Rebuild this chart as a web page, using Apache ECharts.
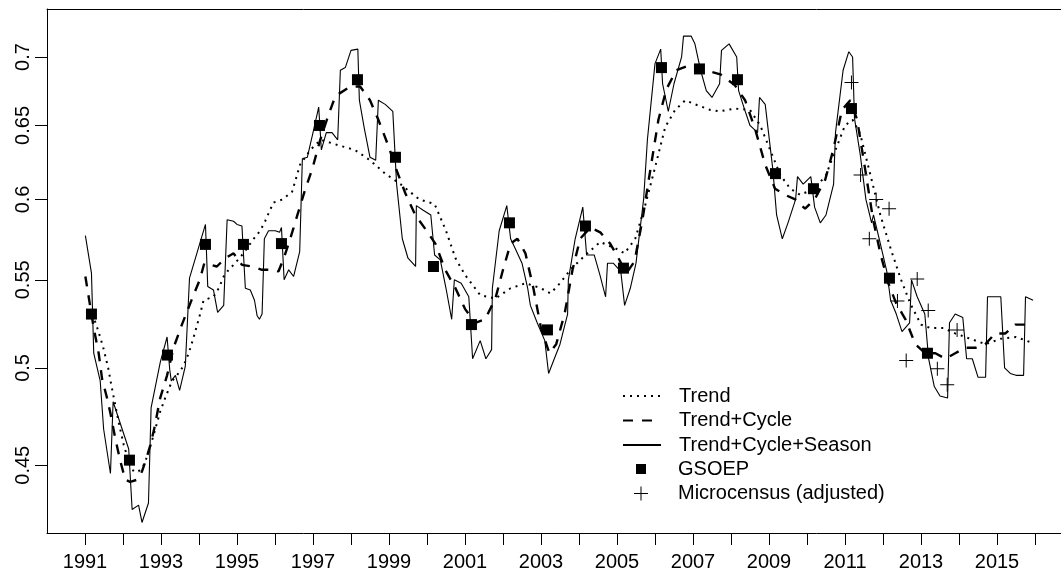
<!DOCTYPE html>
<html><head><meta charset="utf-8">
<script src="https://cdn.jsdelivr.net/npm/echarts@6/dist/echarts.min.js"></script>
<style>html,body{margin:0;padding:0;background:#fff;overflow:hidden}#c{width:1100px;height:574px}</style>
</head><body><div id="c"></div>
<script>
const yTicks = [0.45, 0.5, 0.55, 0.6, 0.65, 0.7];
const xTicks = [1991,1992,1993,1994,1995,1996,1997,1998,1999,2000,2001,2002,2003,2004,2005,2006,2007,2008,2009,2010,2011,2012,2013,2014,2015,2016];
const xLabels = [1991,1993,1995,1997,1999,2001,2003,2005,2007,2009,2011,2013,2015];

const trend = [[1991.2,0.530],[1991.34,0.521],[1991.47,0.512],[1991.61,0.500],[1991.71,0.489],[1991.80,0.480],[1991.88,0.472],[1992.02,0.460],[1992.15,0.452],[1992.28,0.447],[1992.41,0.447],[1992.54,0.450],[1992.65,0.455],[1992.76,0.462],[1992.85,0.468],[1992.98,0.477],[1993.11,0.484],[1993.29,0.493],[1993.42,0.496],[1993.59,0.501],[1993.73,0.508],[1993.86,0.517],[1994.03,0.530],[1994.12,0.538],[1994.38,0.540],[1994.52,0.545],[1994.65,0.552],[1994.78,0.556],[1994.91,0.559],[1995.17,0.566],[1995.44,0.575],[1995.61,0.580],[1995.74,0.586],[1995.83,0.591],[1995.96,0.598],[1996.2,0.600],[1996.45,0.605],[1996.66,0.623],[1996.93,0.633],[1997.2,0.640],[1997.7,0.636],[1998.1,0.633],[1998.5,0.626],[1998.9,0.617],[1999.3,0.610],[1999.8,0.600],[2000.2,0.597],[2000.5,0.580],[2000.75,0.563],[2001.0,0.553],[2001.4,0.541],[2001.8,0.539],[2002.2,0.545],[2002.6,0.548],[2003.0,0.545],[2003.25,0.542],[2003.5,0.548],[2003.77,0.556],[2004.17,0.565],[2004.56,0.573],[2004.96,0.569],[2005.2,0.566],[2005.48,0.575],[2005.74,0.596],[2006.0,0.621],[2006.27,0.649],[2006.53,0.661],[2006.8,0.668],[2007.06,0.665],[2007.46,0.661],[2007.7,0.660],[2008.1,0.662],[2008.5,0.661],[2008.77,0.650],[2009.03,0.633],[2009.3,0.616],[2009.56,0.607],[2009.82,0.603],[2010.2,0.607],[2010.5,0.616],[2010.75,0.633],[2011.0,0.650],[2011.2,0.654],[2011.4,0.644],[2011.67,0.616],[2011.93,0.590],[2012.2,0.569],[2012.46,0.551],[2012.72,0.536],[2013.0,0.524],[2013.25,0.522],[2013.6,0.522],[2013.9,0.519],[2014.3,0.516],[2014.7,0.513],[2015.1,0.516],[2015.5,0.517],[2015.9,0.514]];

const trendCycle = [[1991.01,0.552],[1991.23,0.522],[1991.36,0.508],[1991.45,0.494],[1991.58,0.484],[1991.67,0.476],[1991.80,0.463],[1991.93,0.452],[1992.06,0.443],[1992.19,0.442],[1992.37,0.443],[1992.50,0.447],[1992.61,0.453],[1992.72,0.460],[1992.82,0.468],[1992.98,0.484],[1993.16,0.496],[1993.33,0.511],[1993.55,0.524],[1993.82,0.539],[1994.02,0.550],[1994.14,0.560],[1994.47,0.558],[1994.69,0.563],[1994.91,0.566],[1995.13,0.559],[1995.39,0.558],[1995.66,0.556],[1995.96,0.556],[1996.09,0.555],[1996.23,0.563],[1996.36,0.572],[1996.49,0.582],[1996.59,0.590],[1996.8,0.607],[1996.98,0.620],[1997.19,0.640],[1997.4,0.657],[1997.59,0.671],[1997.98,0.678],[1998.24,0.678],[1998.5,0.668],[1998.72,0.654],[1998.98,0.636],[1999.19,0.620],[1999.43,0.604],[1999.69,0.590],[1999.96,0.581],[2000.22,0.572],[2000.48,0.556],[2000.75,0.545],[2001.0,0.533],[2001.27,0.525],[2001.53,0.527],[2001.8,0.539],[2002.0,0.556],[2002.2,0.572],[2002.38,0.575],[2002.59,0.566],[2002.8,0.545],[2003.0,0.522],[2003.22,0.508],[2003.4,0.513],[2003.62,0.530],[2003.83,0.556],[2004.03,0.575],[2004.3,0.582],[2004.56,0.579],[2004.82,0.572],[2005.04,0.563],[2005.25,0.554],[2005.46,0.561],[2005.67,0.587],[2005.88,0.620],[2006.09,0.654],[2006.3,0.676],[2006.56,0.690],[2006.93,0.694],[2007.32,0.690],[2007.72,0.687],[2008.1,0.679],[2008.37,0.668],[2008.64,0.647],[2008.9,0.623],[2009.16,0.607],[2009.42,0.603],[2009.69,0.600],[2009.95,0.594],[2010.2,0.600],[2010.48,0.613],[2010.69,0.633],[2010.92,0.661],[2011.14,0.668],[2011.32,0.654],[2011.53,0.620],[2011.74,0.587],[2011.93,0.566],[2012.14,0.548],[2012.35,0.536],[2012.59,0.527],[2012.85,0.513],[2013.11,0.508],[2013.38,0.508],[2013.64,0.505],[2013.9,0.508],[2014.16,0.511],[2014.43,0.511],[2014.69,0.513],[2014.95,0.519],[2015.22,0.519],[2015.48,0.524],[2015.74,0.524],[2015.95,0.522]];

const trendCycleSeason = [[1991.01,0.577],[1991.17,0.554],[1991.23,0.508],[1991.40,0.493],[1991.49,0.468],[1991.67,0.446],[1991.74,0.482],[1992.15,0.458],[1992.24,0.429],[1992.41,0.431],[1992.50,0.423],[1992.67,0.432],[1992.74,0.479],[1992.98,0.503],[1993.16,0.517],[1993.23,0.499],[1993.27,0.493],[1993.38,0.496],[1993.49,0.488],[1993.64,0.501],[1993.75,0.551],[1994.17,0.584],[1994.23,0.546],[1994.38,0.544],[1994.49,0.531],[1994.65,0.535],[1994.74,0.587],[1994.91,0.586],[1995.0,0.584],[1995.13,0.583],[1995.22,0.545],[1995.35,0.544],[1995.46,0.538],[1995.53,0.529],[1995.59,0.527],[1995.66,0.530],[1995.72,0.575],[1995.83,0.580],[1996.01,0.580],[1996.12,0.579],[1996.17,0.582],[1996.24,0.550],[1996.36,0.556],[1996.49,0.552],[1996.65,0.567],[1996.72,0.627],[1996.85,0.628],[1997.0,0.645],[1997.15,0.663],[1997.22,0.633],[1997.35,0.645],[1997.5,0.645],[1997.65,0.640],[1997.72,0.690],[1997.85,0.692],[1998.0,0.705],[1998.18,0.706],[1998.22,0.668],[1998.35,0.648],[1998.5,0.628],[1998.65,0.626],[1998.72,0.668],[1998.9,0.665],[1999.1,0.660],[1999.2,0.610],[1999.35,0.575],[1999.5,0.563],[1999.7,0.558],[1999.72,0.596],[1999.9,0.593],[2000.1,0.590],[2000.2,0.565],[2000.35,0.562],[2000.5,0.545],[2000.65,0.527],[2000.72,0.550],[2000.9,0.548],[2001.1,0.540],[2001.2,0.505],[2001.4,0.515],[2001.55,0.505],[2001.7,0.510],[2001.72,0.545],[2001.9,0.580],[2002.1,0.596],[2002.2,0.575],[2002.3,0.570],[2002.5,0.560],[2002.65,0.545],[2002.72,0.535],[2002.9,0.525],[2003.1,0.515],[2003.2,0.497],[2003.35,0.505],[2003.5,0.513],[2003.7,0.530],[2003.72,0.550],[2003.9,0.575],[2004.1,0.595],[2004.2,0.565],[2004.4,0.565],[2004.55,0.553],[2004.7,0.540],[2004.75,0.560],[2004.9,0.560],[2005.1,0.555],[2005.2,0.535],[2005.35,0.545],[2005.5,0.560],[2005.7,0.600],[2005.8,0.640],[2006.0,0.695],[2006.15,0.706],[2006.2,0.680],[2006.35,0.660],[2006.5,0.680],[2006.7,0.700],[2006.75,0.716],[2006.95,0.716],[2007.05,0.710],[2007.2,0.690],[2007.35,0.675],[2007.5,0.670],[2007.7,0.680],[2007.75,0.705],[2007.95,0.710],[2008.15,0.700],[2008.2,0.675],[2008.35,0.662],[2008.5,0.650],[2008.7,0.645],[2008.75,0.670],[2008.9,0.665],[2009.1,0.620],[2009.2,0.590],[2009.35,0.575],[2009.5,0.585],[2009.7,0.600],[2009.75,0.615],[2009.9,0.610],[2010.1,0.615],[2010.2,0.595],[2010.35,0.585],[2010.5,0.590],[2010.7,0.610],[2010.75,0.645],[2010.95,0.690],[2011.1,0.704],[2011.2,0.700],[2011.25,0.655],[2011.4,0.630],[2011.55,0.600],[2011.7,0.585],[2011.75,0.590],[2011.9,0.575],[2012.1,0.555],[2012.2,0.538],[2012.35,0.530],[2012.5,0.520],[2012.7,0.525],[2012.75,0.550],[2012.9,0.540],[2013.1,0.530],[2013.2,0.505],[2013.35,0.490],[2013.5,0.485],[2013.7,0.484],[2013.75,0.525],[2013.9,0.530],[2014.1,0.528],[2014.2,0.505],[2014.35,0.505],[2014.5,0.495],[2014.7,0.495],[2014.75,0.540],[2014.9,0.540],[2015.1,0.540],[2015.2,0.500],[2015.35,0.497],[2015.5,0.496],[2015.7,0.496],[2015.75,0.540],[2015.95,0.538]];

const gsoep = [[1991.17,0.530],[1992.17,0.4525],[1993.17,0.507],[1994.17,0.5715],[1995.17,0.5715],[1996.17,0.572],[1997.17,0.650],[1998.17,0.683],[1999.17,0.628],[2000.17,0.558],[2001.17,0.524],[2002.17,0.585],[2003.17,0.521],[2004.17,0.583],[2005.17,0.557],[2006.17,0.692],[2007.17,0.691],[2008.17,0.683],[2009.17,0.617],[2010.17,0.607],[2011.17,0.662],[2012.17,0.551],[2013.17,0.508]];

const microcensus = [[2011.17,0.681],[2011.41,0.616],[2011.64,0.575],[2011.82,0.600],[2012.16,0.594],[2012.38,0.5375],[2012.61,0.504],[2012.90,0.5505],[2013.19,0.532],[2013.43,0.4996],[2013.69,0.491],[2013.95,0.521]];

const FONT = '"Liberation Sans", Arial, Helvetica, sans-serif';
const plusPath = 'path://M6.5,0h1v6.5h6.5v1h-6.5v6.5h-1v-6.5h-6.5v-1h6.5z';
const specks = 'M0,0h0.01v0.01h-0.01zM37.99,13.99h0.01v0.01h-0.01z';
const squareLegend = 'path://M14,2h10v10h-10z' + specks;
const plusLegend = 'path://M18.5,0h1v6.5h6.5v1h-6.5v6.5h-1v-6.5h-6.5v-1h6.5z' + specks;

const chart = echarts.init(document.getElementById('c'), null, {renderer: 'canvas'});
chart.setOption({
  animation: false,
  backgroundColor: '#fff',
  grid: {left: 47, top: 9, width: 1026, height: 524, outerBoundsMode: 'none', containLabel: false, show: false},
  xAxis: [{
    type: 'value', min: 1990, max: 2017, interval: 1, position: 'bottom',
    axisLine: {show: true, onZero: false, lineStyle: {color: '#000', width: 1}},
    splitLine: {show: false},
    axisTick: {show: true, length: 12, customValues: xTicks, lineStyle: {color: '#000', width: 1}},
    axisLabel: {customValues: xLabels, margin: 19, fontSize: 20, color: '#000', fontFamily: FONT, formatter: v => String(v)}
  }, {
    type: 'value', min: 1990, max: 2017, position: 'top',
    axisLine: {show: true, onZero: false, lineStyle: {color: '#000', width: 1}},
    splitLine: {show: false}, axisTick: {show: false}, axisLabel: {show: false}
  }],
  yAxis: {
    type: 'log', logBase: 10, min: 0.4182, max: 0.7373,
    axisLine: {show: true, onZero: false, lineStyle: {color: '#000', width: 1}},
    splitLine: {show: false},
    axisTick: {show: true, length: 12, customValues: yTicks, lineStyle: {color: '#000', width: 1}},
    axisLabel: {customValues: yTicks, rotate: 90, margin: 14, fontSize: 20, color: '#000', fontFamily: FONT, formatter: v => String(v)}
  },
  legend: [
    {orient: 'vertical', left: 622, top: 386, padding: 0, itemWidth: 38, itemHeight: 14, itemGap: 4.5,
     itemStyle: {opacity: 0},
     textStyle: {fontSize: 20, color: '#000', fontFamily: FONT, padding: [0,0,0,13]},
     data: ['Trend', 'Trend+Cycle', 'Trend+Cycle+Season']},
    {orient: 'vertical', left: 622, top: 459, padding: 0, itemWidth: 38, itemHeight: 14, itemGap: 4.5,
     itemStyle: {color: '#000', opacity: 1},
     textStyle: {fontSize: 20, color: '#000', fontFamily: FONT, padding: [0,0,0,13]},
     data: [{name: 'GSOEP', icon: squareLegend}, {name: 'Microcensus (adjusted)', icon: plusLegend}]}
  ],
  series: [
    {name: 'Trend', type: 'line', data: trend, symbol: 'none', showSymbol: false,
     lineStyle: {color: '#000', width: 2, type: [2, 5], cap: 'butt'}, itemStyle: {color: '#000'}},
    {name: 'Trend+Cycle', type: 'line', data: trendCycle, symbol: 'none', showSymbol: false,
     lineStyle: {color: '#000', width: 2.4, type: [10, 9], cap: 'butt'}, itemStyle: {color: '#000'}},
    {name: 'Trend+Cycle+Season', type: 'line', data: trendCycleSeason, symbol: 'none', showSymbol: false,
     lineStyle: {color: '#000', width: 1.1}, itemStyle: {color: '#000'}},
    {name: 'GSOEP', type: 'scatter', data: gsoep, symbol: 'rect', symbolSize: 11, itemStyle: {color: '#000', opacity: 1}},
    {name: 'Microcensus (adjusted)', type: 'scatter', data: microcensus, symbol: plusPath, symbolSize: 14, itemStyle: {color: '#000', opacity: 1}}
  ]
});
</script></body></html>
